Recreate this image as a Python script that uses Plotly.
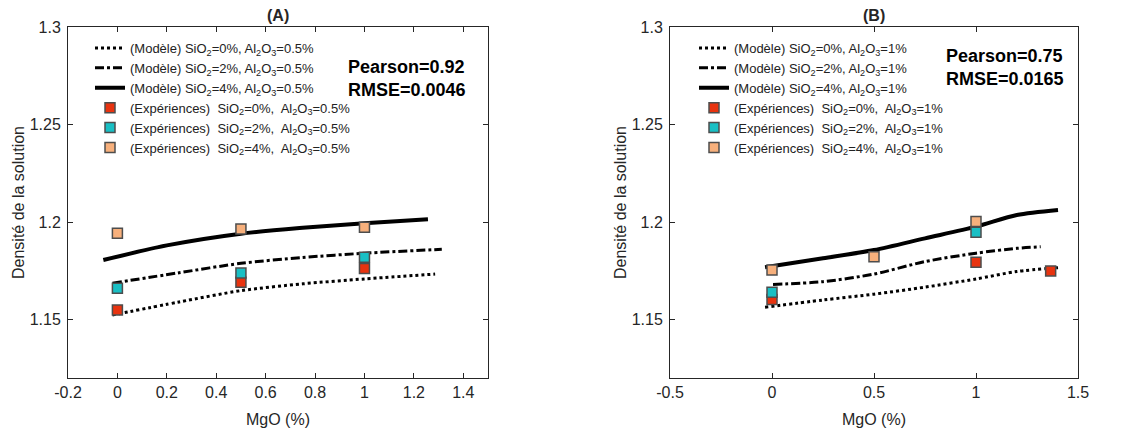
import plotly.graph_objects as go

# ---------------- Data ----------------
# Panel A (Al2O3 = 0.5%)
a_exp_x = [0, 0.5, 1]
a_exp_si0 = [1.1549, 1.1691, 1.1761]
a_exp_si2 = [1.1660, 1.1738, 1.1819]
a_exp_si4 = [1.1942, 1.1964, 1.1973]

a_mod_si0_x = [-0.02, 0.25, 0.5, 0.75, 1.0, 1.286]
a_mod_si0_y = [1.1523, 1.1590, 1.1648, 1.1683, 1.1708, 1.1733]
a_mod_si2_x = [-0.02, 0.25, 0.5, 0.75, 1.0, 1.313]
a_mod_si2_y = [1.1686, 1.1740, 1.1788, 1.1818, 1.1840, 1.1860]
a_mod_si4_x = [-0.057, 0.2, 0.5, 0.75, 1.0, 1.257]
a_mod_si4_y = [1.1805, 1.1880, 1.1940, 1.1970, 1.1993, 1.2014]

# Panel B (Al2O3 = 1%)
b_exp_si0_x = [0, 1, 1.366]
b_exp_si0 = [1.1603, 1.1793, 1.1749]
b_exp_si2_x = [0, 1]
b_exp_si2 = [1.1640, 1.1947]
b_exp_si4_x = [0, 0.5, 1]
b_exp_si4 = [1.1754, 1.1822, 1.2002]

b_mod_si0_x = [-0.034, 0.25, 0.5, 0.75, 1.0, 1.2, 1.402]
b_mod_si0_y = [1.1563, 1.1600, 1.1630, 1.1666, 1.1708, 1.1746, 1.1766]
b_mod_si2_x = [0.005, 0.25, 0.5, 0.75, 1.0, 1.2, 1.317]
b_mod_si2_y = [1.1680, 1.1694, 1.1733, 1.1797, 1.1840, 1.1865, 1.1873]
b_mod_si4_x = [-0.034, 0.25, 0.5, 0.75, 1.0, 1.2, 1.402]
b_mod_si4_y = [1.1768, 1.1814, 1.1856, 1.1916, 1.1976, 1.2036, 1.2062]

y_ticks = [1.15, 1.2, 1.25, 1.3]
a_x_ticks = [-0.2, 0, 0.2, 0.4, 0.6, 0.8, 1, 1.2, 1.4]
b_x_ticks = [-0.5, 0, 0.5, 1, 1.5]

c_red = "#e8330f"
c_cyan = "#19bfc4"
c_orange = "#f7b07c"
c_edge = "#4d4d4d"
font_fam = "Liberation Sans, Arial, sans-serif"
ink = "#262626"

# page is 1146x434; the html body has an 8px margin, so the figure is drawn 8px in
OFF = 8
W, H = 1146 - OFF, 434 - OFF

def px_x(p):
    return (p - OFF) / W

def px_y(p):
    return 1 - (p - OFF) / H

fig = go.Figure()

def add_panel(xa, ya, leg, al, mods, exps):
    for (xs, ys, dash, width, sio) in mods:
        fig.add_trace(go.Scatter(
            x=xs, y=ys, mode="lines",
            line=dict(color="black", width=width, dash=dash, shape="spline", smoothing=0.8),
            name=f"(Modèle) SiO<sub>2</sub>={sio}%, Al<sub>2</sub>O<sub>3</sub>={al}%",
            xaxis=xa, yaxis=ya, legend=leg))
    for (xs, ys, col, sio) in exps:
        fig.add_trace(go.Scatter(
            x=xs, y=ys, mode="markers",
            marker=dict(symbol="square", size=10, color=col, line=dict(color=c_edge, width=1.5)),
            name=f"(Expériences)  SiO<sub>2</sub>={sio}%,  Al<sub>2</sub>O<sub>3</sub>={al}%",
            xaxis=xa, yaxis=ya, legend=leg))

add_panel("x", "y", "legend", "0.5",
          [(a_mod_si0_x, a_mod_si0_y, "dot", 3, 0),
           (a_mod_si2_x, a_mod_si2_y, "dashdot", 3, 2),
           (a_mod_si4_x, a_mod_si4_y, "solid", 4, 4)],
          [(a_exp_x, a_exp_si0, c_red, 0),
           (a_exp_x, a_exp_si2, c_cyan, 2),
           (a_exp_x, a_exp_si4, c_orange, 4)])
add_panel("x2", "y2", "legend2", "1",
          [(b_mod_si0_x, b_mod_si0_y, "dot", 3, 0),
           (b_mod_si2_x, b_mod_si2_y, "dashdot", 3, 2),
           (b_mod_si4_x, b_mod_si4_y, "solid", 4, 4)],
          [(b_exp_si0_x, b_exp_si0, c_red, 0),
           (b_exp_si2_x, b_exp_si2, c_cyan, 2),
           (b_exp_si4_x, b_exp_si4, c_orange, 4)])

axis_common = dict(showline=True, linecolor=ink, linewidth=1, mirror="ticks", ticks="inside",
                   ticklen=5, tickcolor=ink, showgrid=False, zeroline=False, automargin=False,
                   tickfont=dict(family=font_fam, size=16, color=ink))
ydom = [px_y(378), px_y(27)]
title_font = dict(size=16, color=ink)

fig.update_layout(
    width=W, height=H, margin=dict(l=0, r=0, t=0, b=0),
    paper_bgcolor="white", plot_bgcolor="white",
    font=dict(family=font_fam, color=ink),
    xaxis=dict(domain=[px_x(68), px_x(488)], range=[-0.2, 1.5], tickvals=a_x_ticks,
               ticktext=[f"{v:g}" for v in a_x_ticks], anchor="y",
               title=dict(text="MgO (%)", font=title_font, standoff=13), **axis_common),
    yaxis=dict(domain=ydom, range=[1.12, 1.3], tickvals=y_ticks, ticktext=[f"{v:g}" for v in y_ticks],
               anchor="x", ticklabelstandoff=3,
               title=dict(text="Densité de la solution", font=title_font, standoff=1),
               **axis_common),
    xaxis2=dict(domain=[px_x(670), px_x(1078)], range=[-0.5, 1.5], tickvals=b_x_ticks,
                ticktext=[f"{v:g}" for v in b_x_ticks], anchor="y2",
                title=dict(text="MgO (%)", font=title_font, standoff=13), **axis_common),
    yaxis2=dict(domain=ydom, range=[1.12, 1.3], tickvals=y_ticks, ticktext=[f"{v:g}" for v in y_ticks],
                anchor="x2", ticklabelstandoff=3,
                title=dict(text="Densité de la solution", font=title_font, standoff=1),
                **axis_common),
    legend=dict(x=px_x(90), y=px_y(33), xanchor="left", yanchor="top", bgcolor="rgba(0,0,0,0)",
                font=dict(size=13, family=font_fam, color="#222"), itemwidth=30, tracegroupgap=0),
    legend2=dict(x=px_x(694), y=px_y(33), xanchor="left", yanchor="top", bgcolor="rgba(0,0,0,0)",
                 font=dict(size=13, family=font_fam, color="#222"), itemwidth=30, tracegroupgap=0),
    annotations=[
        dict(text="<b>(A)</b>", x=px_x(278), y=px_y(15), xref="paper", yref="paper", showarrow=False,
             font=dict(size=16, color=ink), xanchor="center", yanchor="middle"),
        dict(text="<b>(B)</b>", x=px_x(874), y=px_y(15), xref="paper", yref="paper", showarrow=False,
             font=dict(size=16, color=ink), xanchor="center", yanchor="middle"),
        dict(text="<b>Pearson=0.92<br>RMSE=0.0046</b>", x=px_x(346), y=px_y(78), xref="paper", yref="paper",
             showarrow=False, align="left", font=dict(size=18, color="black"), xanchor="left", yanchor="middle"),
        dict(text="<b>Pearson=0.75<br>RMSE=0.0165</b>", x=px_x(944), y=px_y(67), xref="paper", yref="paper",
             showarrow=False, align="left", font=dict(size=18, color="black"), xanchor="left", yanchor="middle"),
    ],
)

fig.write_html("out.html")
